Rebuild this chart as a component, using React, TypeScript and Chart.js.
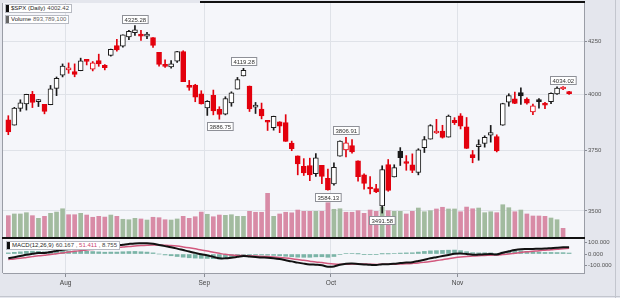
import React, { useEffect, useRef } from 'react';
import { Chart, registerables } from 'chart.js';

Chart.register(...registerables);

const FONT = "'Liberation Sans', Arial, Helvetica, sans-serif";

// ---- data (S&P 500 daily, 2022-07-18 .. 2022-11-28) ----
const dates = [
  'Jul 18','Jul 19','Jul 20','Jul 21','Jul 22','Jul 25','Jul 26','Jul 27','Jul 28','Jul 29',
  'Aug 1','Aug 2','Aug 3','Aug 4','Aug 5','Aug 8','Aug 9','Aug 10','Aug 11','Aug 12',
  'Aug 15','Aug 16','Aug 17','Aug 18','Aug 19','Aug 22','Aug 23','Aug 24','Aug 25','Aug 26',
  'Aug 29','Aug 30','Aug 31','Sep 1','Sep 2','Sep 6','Sep 7','Sep 8','Sep 9','Sep 12',
  'Sep 13','Sep 14','Sep 15','Sep 16','Sep 19','Sep 20','Sep 21','Sep 22','Sep 23','Sep 26',
  'Sep 27','Sep 28','Sep 29','Sep 30','Oct 3','Oct 4','Oct 5','Oct 6','Oct 7','Oct 10',
  'Oct 11','Oct 12','Oct 13','Oct 14','Oct 17','Oct 18','Oct 19','Oct 20','Oct 21','Oct 24',
  'Oct 25','Oct 26','Oct 27','Oct 28','Oct 31','Nov 1','Nov 2','Nov 3','Nov 4','Nov 7',
  'Nov 8','Nov 9','Nov 10','Nov 11','Nov 14','Nov 15','Nov 16','Nov 17','Nov 18','Nov 21',
  'Nov 22','Nov 23','Nov 25','Nov 28'
];

const opens = [
  3883.79,3860.73,3935.32,3955.47,3998.40,3965.72,3953.22,3951.43,4026.13,4087.33,
  4112.38,4104.21,4107.96,4154.85,4115.87,4155.93,4133.11,4181.02,4227.40,4225.02,
  4269.37,4290.46,4280.40,4273.13,4266.31,4195.08,4133.09,4126.55,4153.26,4198.74,
  4034.58,4041.25,4000.67,3936.73,3994.66,3930.89,3909.43,3959.94,4022.94,4083.67,
  4037.12,3940.73,3932.41,3880.95,3849.91,3875.23,3871.40,3782.36,3727.14,3682.72,
  3686.44,3651.94,3687.01,3633.48,3609.78,3726.46,3753.25,3771.97,3706.74,3647.51,
  3595.86,3590.83,3520.37,3690.41,3638.65,3746.26,3703.11,3689.05,3657.10,3762.01,
  3799.44,3825.97,3834.69,3808.26,3881.85,3901.79,3852.90,3733.25,3766.98,3780.71,
  3817.02,3810.94,3859.89,3963.72,3977.97,4006.41,3976.82,3919.26,3966.39,3956.23,
  3965.51,4000.30,4023.34,4005.36
];
const highs = [
  3902.44,3939.81,3974.13,3999.29,4012.44,3975.30,3953.22,4039.56,4078.95,4140.15,
  4144.95,4140.47,4167.66,4161.29,4151.58,4186.62,4137.30,4211.03,4257.91,4280.47,
  4301.79,4325.28,4302.18,4292.53,4266.31,4195.08,4159.77,4156.56,4200.54,4203.04,
  4062.99,4044.98,4015.37,3970.23,4018.43,3942.55,3987.89,4010.50,4076.81,4119.28,
  4037.12,3961.94,3959.14,3880.95,3900.45,3876.01,3907.07,3790.78,3727.14,3715.67,
  3717.53,3736.74,3687.01,3671.44,3698.35,3791.92,3806.91,3797.93,3706.74,3652.17,
  3640.66,3608.34,3685.41,3712.00,3689.73,3762.79,3728.58,3736.00,3757.89,3810.74,
  3862.85,3886.15,3859.95,3905.42,3893.73,3911.79,3894.44,3750.59,3796.34,3813.95,
  3859.40,3818.20,3958.33,4001.48,4008.97,4028.84,3983.09,3954.33,3979.89,3962.00,
  4005.88,4033.78,4034.02,4012.27
];
const lows = [
  3818.63,3860.73,3922.03,3927.64,3938.85,3943.46,3910.74,3951.43,3992.97,4079.22,
  4096.02,4079.81,4107.96,4135.42,4107.31,4128.97,4112.09,4177.26,4201.41,4219.78,
  4256.90,4277.77,4253.08,4261.98,4218.70,4129.86,4124.03,4119.97,4147.59,4057.66,
  4017.42,3965.21,3954.53,3903.65,3906.21,3886.75,3906.03,3944.81,4022.94,4083.67,
  3921.21,3912.27,3888.28,3837.08,3838.50,3827.54,3789.49,3749.45,3647.47,3644.76,
  3623.29,3640.61,3610.40,3584.13,3604.93,3726.46,3722.66,3739.22,3620.73,3588.10,
  3568.45,3573.86,3491.58,3579.68,3638.65,3686.53,3666.51,3656.44,3647.42,3741.65,
  3799.44,3824.07,3803.79,3808.26,3863.18,3843.80,3758.68,3698.15,3708.84,3764.70,
  3786.28,3744.22,3859.89,3944.82,3956.40,3953.17,3954.34,3906.54,3935.98,3933.34,
  3956.88,3998.66,4020.76,3997.92
];
const closes = [
  3830.85,3936.69,3959.90,3998.95,3961.63,3966.84,3921.05,4023.61,4072.43,4130.29,
  4118.63,4091.19,4155.17,4151.94,4145.19,4140.06,4122.47,4210.24,4207.27,4280.15,
  4297.14,4305.20,4274.04,4283.74,4228.48,4137.99,4128.73,4140.77,4199.12,4057.66,
  4030.61,3986.16,3955.00,3966.85,3924.26,3908.19,3979.87,4006.18,4067.36,4110.41,
  3932.69,3946.01,3901.35,3873.33,3899.89,3855.93,3789.93,3757.99,3693.23,3655.04,
  3647.29,3719.04,3640.47,3585.62,3678.43,3790.93,3783.28,3744.52,3639.66,3612.39,
  3588.84,3577.03,3669.91,3583.07,3677.95,3719.98,3695.16,3665.78,3752.75,3797.34,
  3859.11,3830.60,3807.30,3901.06,3871.98,3856.10,3759.69,3719.89,3770.55,3806.80,
  3828.11,3748.57,3956.37,3992.93,3957.25,3991.73,3958.79,3946.56,3965.34,3949.94,
  4003.58,4027.26,4026.12,4002.42
];
const priorClose = 3863.16;

// volume in millions of shares
const volumes = [
  2100,2260,2260,2380,2100,1850,2040,2320,2440,2750,
  2190,2190,2320,2160,1950,2040,1970,2160,2040,1760,
  1720,1850,1790,1690,1950,1910,1720,1690,1790,2040,
  1850,2000,2440,2230,2000,2160,2130,2190,2040,2040,
  2510,2420,2420,4200,2040,2260,2420,2370,2630,2510,
  2510,2510,2510,3320,2700,2750,2420,2420,2570,2320,
  2630,2510,2910,2570,2510,2510,2260,2510,2820,2470,
  2570,2730,2890,2730,2730,2470,2910,2750,2820,2380,
  2470,2380,3130,2850,2470,2630,2260,2070,2070,2040,
  1880,1720,910,null
];
const volumeDirection = [
  'd','u','u','u','d','u','d','u','u','u',
  'd','d','u','d','d','d','d','u','d','u',
  'u','u','d','u','d','d','d','u','u','d',
  'd','d','d','u','d','d','u','u','u','u',
  'd','d','d','d','u','d','d','d','d','d',
  'd','u','d','d','u','u','d','d','d','d',
  'd','d','u','d','u','u','d','d','u','u',
  'u','d','d','u','u','d','d','d','u','u',
  'u','d','u','u','d','u','d','d','d','d',
  'u','u','d','d'
];

const macdLine = [
  -38,-28,-18,-6,2,8,10,18,28,38,
  45,50,56,60,63,65,66,71,75,82,
  89,94,95,95,90,80,70,60,48,35,
  22,10,-2,-12,-25,-38,-38,-32,-25,-18,
  -22,-26,-30,-33,-38,-45,-55,-65,-76,-85,
  -92,-95,-100,-112,-110,-95,-86,-84,-88,-92,
  -96,-98,-90,-90,-86,-80,-76,-72,-62,-50,
  -38,-28,-18,-8,2,4,0,-6,-5,-2,
  0,-4,12,24,35,42,44,45,47,48,
  52,56,59,60.167
];
const signalLine = [
  -48,-43,-37,-30,-23,-16,-10,-4,3,10,
  17,24,30,36,41,46,50,54,58,62,
  67,71,75,78,80,80,78,75,70,63,
  55,46,36,27,16,6,-3,-9,-12,-14,
  -16,-18,-21,-23,-26,-30,-35,-41,-48,-56,
  -63,-70,-76,-83,-88,-90,-90,-89,-89,-89,
  -90,-92,-91,-91,-90,-88,-86,-83,-79,-73,
  -66,-58,-50,-42,-33,-26,-21,-18,-15,-13,
  -10,-9,-5,0,7,14,20,25,30,34,
  38,43,47,51.411
];
const histogram = [
  10,15,19,24,25,24,20,22,25,28,
  28,26,26,24,22,19,16,17,17,20,
  22,23,20,17,10,0,-8,-15,-22,-28,
  -33,-36,-38,-39,-41,-44,-35,-23,-13,-4,
  -6,-8,-9,-10,-12,-15,-20,-24,-28,-29,
  -29,-25,-24,-29,-22,-5,4,5,1,-3,
  -6,-6,1,1,4,8,10,11,17,23,
  28,30,32,34,35,30,21,12,10,11,
  10,5,17,24,28,28,24,20,17,14,
  14,13,12,8.755
];

const monthLabels = ['Aug', 'Sep', 'Oct', 'Nov'];
const monthStarts = [10, 33, 54, 75];
const priceTicks = [3500, 3750, 4000, 4250];
const macdTicks = [-100, 0, 100];

const calloutIndex = [21, 35, 39, 53, 56, 62, 92];
const calloutValue = [4325.28, 3886.75, 4119.28, 3584.13, 3806.91, 3491.58, 4034.02];
const calloutSide = ['above', 'below', 'above', 'below', 'above', 'below', 'above'];

const titleSymbol = '$SPX (Daily)';
const titlePrice = '4002.42';
const volumeLabel = 'Volume';
const volumeValue = '893,789,100';
const macdLabel = 'MACD(12,26,9)';
const macdValue = '60.167';
const signalValue = '51.411';
const histValue = '8.755';

// ---- styling ----
const RED = '#e3000d';
const BLACK = '#1a1a1a';
const GRID = '#dfe2e8';
const PLOT_BG = '#f5f6fa';
const PAGE_BG = '#e4e6ed';
const X_MIN = -0.88;
const X_MAX = 95.47;

const idx = closes.map((_, i) => i);
const prevClose = (i: number) => (i === 0 ? priorClose : closes[i - 1]);
const candleColor = idx.map((i) => (closes[i] >= prevClose(i) ? BLACK : RED));
const candleFill = idx.map((i) => (closes[i] >= opens[i] ? '#ffffff' : candleColor[i]));
const volumeColor = volumeDirection.map((d) => (d === 'u' ? '#a2bb9f' : '#d88ba6'));

const monthTickValues = monthStarts.map((m) => m - 0.5);

const framePlugin = (opts: { thickBottom: boolean; topLine: boolean }) => ({
  id: 'frame',
  beforeDraw(chart: any) {
    const { ctx, chartArea: a } = chart;
    ctx.save();
    ctx.fillStyle = PLOT_BG;
    ctx.fillRect(a.left, a.top, a.right - a.left, a.bottom - a.top);
    ctx.restore();
  },
  afterDraw(chart: any) {
    const { ctx, chartArea: a } = chart;
    ctx.save();
    ctx.strokeStyle = '#9a9da6';
    ctx.lineWidth = 1;
    ctx.beginPath();
    ctx.moveTo(a.left - 0.5, a.top);
    ctx.lineTo(a.left - 0.5, a.bottom);
    ctx.stroke();
    if (opts.thickBottom) {
      ctx.strokeStyle = '#111';
      ctx.lineWidth = 2;
      ctx.beginPath();
      ctx.moveTo(a.left - 1, a.bottom);
      ctx.lineTo(a.right + 1, a.bottom);
      ctx.stroke();
    }
    if (opts.topLine) {
      ctx.strokeStyle = '#111';
      ctx.lineWidth = 2;
      ctx.beginPath();
      ctx.moveTo(200, 2);
      ctx.lineTo(a.right + 1, 2);
      ctx.stroke();
    }
    ctx.restore();
  },
});

const calloutPlugin = {
  id: 'callouts',
  afterDatasetsDraw(chart: any) {
    const { ctx } = chart;
    const xs = chart.scales.x;
    const ys = chart.scales.y;
    ctx.save();
    ctx.font = `6px ${FONT}`;
    ctx.textBaseline = 'middle';
    ctx.textAlign = 'center';
    calloutIndex.forEach((ci, k) => {
      const text = calloutValue[k].toFixed(2);
      const x = xs.getPixelForValue(ci);
      const y = ys.getPixelForValue(calloutValue[k]);
      const w = ctx.measureText(text).width + 4;
      const h = 8;
      const top = calloutSide[k] === 'above' ? y - 3 - h : y + 3;
      const left = Math.round(x - w / 2) + 0.5;
      ctx.fillStyle = '#ffffff';
      ctx.fillRect(left, Math.round(top) + 0.5, w, h);
      ctx.strokeStyle = '#8e9097';
      ctx.lineWidth = 1;
      ctx.strokeRect(left, Math.round(top) + 0.5, w, h);
      ctx.fillStyle = '#333';
      ctx.fillText(text, left + w / 2, Math.round(top) + 0.5 + h / 2 + 0.5);
    });
    ctx.restore();
  },
};

export default function App() {
  const priceRef = useRef<HTMLCanvasElement>(null);
  const macdRef = useRef<HTMLCanvasElement>(null);

  useEffect(() => {
    Chart.defaults.font.family = FONT;

    const priceChart = new Chart(priceRef.current as HTMLCanvasElement, {
      type: 'bar',
      data: {
        datasets: [
          {
            label: 'body',
            data: idx.map((i) => ({ x: i, y: [opens[i], closes[i]] })) as any,
            backgroundColor: candleFill,
            borderColor: candleColor,
            borderWidth: 1,
            borderSkipped: false,
            barThickness: 5,
            minBarLength: 2,
            grouped: false,
            yAxisID: 'y',
            order: 1,
          } as any,
          {
            label: 'wick',
            data: idx.map((i) => ({ x: i, y: [lows[i], highs[i]] })) as any,
            backgroundColor: candleColor,
            borderWidth: 0,
            barThickness: 1,
            grouped: false,
            yAxisID: 'y',
            order: 2,
          } as any,
          {
            label: 'volume',
            data: idx.map((i) => ({ x: i, y: volumes[i] })) as any,
            backgroundColor: volumeColor,
            borderWidth: 0,
            barThickness: 4,
            grouped: false,
            yAxisID: 'yv',
            order: 3,
          } as any,
        ],
      },
      options: {
        animation: false,
        responsive: false,
        devicePixelRatio: 1,
        events: [],
        layout: { padding: { left: 3, top: 3, right: 0, bottom: 2 } },
        plugins: { legend: { display: false }, tooltip: { enabled: false } },
        scales: {
          x: {
            type: 'linear',
            min: X_MIN,
            max: X_MAX,
            offset: false,
            ticks: { display: false },
            grid: { color: GRID, drawTicks: false, offset: false } as any,
            border: { display: false },
            afterBuildTicks: (s: any) => {
              s.ticks = monthTickValues.map((v) => ({ value: v }));
            },
            afterFit: (s: any) => {
              s.height = 0;
              s.paddingLeft = 0;
              s.paddingRight = 0;
            },
          },
          y: {
            type: 'logarithmic',
            position: 'right',
            min: 3393.6,
            max: 4438.6,
            afterBuildTicks: (s: any) => {
              s.ticks = priceTicks.map((v) => ({ value: v }));
            },
            ticks: {
              callback: (v: any) => String(v),
              font: { size: 6, family: FONT },
              color: '#555',
              padding: 1,
              autoSkip: false,
            },
            grid: { color: GRID, tickColor: '#8a8d96', tickLength: 3 },
            border: { display: true, color: '#9a9da6' },
            afterFit: (s: any) => {
              s.width = 36;
              s.paddingTop = 0;
              s.paddingBottom = 0;
            },
          },
          yv: { type: 'linear', display: false, min: 0, max: 22100 },
        },
      } as any,
      plugins: [framePlugin({ thickBottom: true, topLine: true }), calloutPlugin],
    });

    const macdChart = new Chart(macdRef.current as HTMLCanvasElement, {
      type: 'bar',
      data: {
        datasets: [
          {
            type: 'line',
            label: 'MACD',
            data: idx.map((i) => ({ x: i, y: macdLine[i] })),
            borderColor: '#111',
            borderWidth: 2,
            pointRadius: 0,
            tension: 0.4,
            order: 1,
          } as any,
          {
            type: 'line',
            label: 'Signal',
            data: idx.map((i) => ({ x: i, y: signalLine[i] })),
            borderColor: '#d2587d',
            borderWidth: 1.5,
            pointRadius: 0,
            tension: 0.4,
            order: 2,
          } as any,
          {
            type: 'bar',
            label: 'Histogram',
            data: idx.map((i) => ({ x: i, y: histogram[i] })),
            backgroundColor: 'rgba(92,164,146,0.8)',
            borderWidth: 0,
            barThickness: 4,
            grouped: false,
            order: 3,
          } as any,
        ],
      },
      options: {
        animation: false,
        responsive: false,
        devicePixelRatio: 1,
        events: [],
        layout: { padding: { left: 3, top: 0, right: 0, bottom: 0 } },
        plugins: { legend: { display: false }, tooltip: { enabled: false } },
        scales: {
          x: {
            type: 'linear',
            min: X_MIN,
            max: X_MAX,
            offset: false,
            grid: { color: GRID, tickColor: '#8a8d96', tickLength: 4, offset: false } as any,
            border: { display: true, color: '#9a9da6' },
            ticks: {
              autoSkip: false,
              maxRotation: 0,
              padding: 2,
              color: '#444',
              font: { size: 6.5, family: FONT },
              callback: (_v: any, i: number) => monthLabels[i],
            },
            afterBuildTicks: (s: any) => {
              s.ticks = monthTickValues.map((v) => ({ value: v }));
            },
            afterFit: (s: any) => {
              s.height = 25;
              s.paddingLeft = 0;
              s.paddingRight = 0;
            },
          },
          y: {
            type: 'linear',
            position: 'right',
            min: -168,
            max: 133,
            afterBuildTicks: (s: any) => {
              s.ticks = macdTicks.map((v) => ({ value: v }));
            },
            ticks: {
              callback: (v: any) => Number(v).toFixed(3),
              font: { size: 6, family: FONT },
              color: '#555',
              padding: 1,
              autoSkip: false,
            },
            grid: { drawOnChartArea: false, tickColor: '#8a8d96', tickLength: 3 },
            border: { display: true, color: '#9a9da6' },
            afterFit: (s: any) => {
              s.width = 36;
              s.paddingTop = 0;
              s.paddingBottom = 0;
            },
          },
        },
      } as any,
      plugins: [framePlugin({ thickBottom: false, topLine: false })],
    });

    return () => {
      priceChart.destroy();
      macdChart.destroy();
    };
  }, []);

  const box = (left: number, top: number): React.CSSProperties => ({
    position: 'absolute',
    left,
    top,
    height: 9,
    boxSizing: 'border-box',
    border: '1px solid #b7bac2',
    background: '#ffffff',
    display: 'flex',
    alignItems: 'center',
    fontSize: 6,
    lineHeight: '7px',
    fontFamily: FONT,
    color: '#222',
    whiteSpace: 'nowrap',
    paddingRight: 2,
    zIndex: 3,
  });
  const marker = (color: string): React.CSSProperties => ({
    display: 'inline-block',
    width: 3,
    height: 7,
    background: color,
    marginRight: 2,
  });

  return (
    <div
      style={{
        position: 'fixed',
        left: 0,
        top: 0,
        width: 620,
        height: 298,
        background: PAGE_BG,
        overflow: 'hidden',
        fontFamily: FONT,
      }}
    >
      <canvas ref={priceRef} width={620} height={240} style={{ position: 'absolute', left: 0, top: 0 }} />
      <canvas ref={macdRef} width={620} height={59} style={{ position: 'absolute', left: 0, top: 239 }} />
      <div style={{ position: 'absolute', left: 615, top: 0, width: 1, height: 298, background: '#c3c6ce' }} />
      <div style={{ position: 'absolute', left: 0, top: 296, width: 620, height: 1, background: '#c3c6ce' }} />
      <div style={box(5, 4)}>
        <span style={marker('#111')} />
        <span style={{ color: '#222' }}>{titleSymbol}</span>
        <span style={{ color: '#444', marginLeft: 2 }}>{titlePrice}</span>
      </div>
      <div style={box(5, 15)}>
        <span style={marker('#666')} />
        <span style={{ color: '#222' }}>{volumeLabel}</span>
        <span style={{ color: '#666', marginLeft: 2 }}>{volumeValue}</span>
      </div>
      <div style={box(6, 241)}>
        <span style={marker('#111')} />
        <span style={{ color: '#222' }}>{macdLabel}</span>
        <span style={{ color: '#444', marginLeft: 2 }}>{macdValue}</span>
        <span style={{ color: '#444' }}>&nbsp;,&nbsp;</span>
        <span style={{ color: '#cc4a70' }}>{signalValue}</span>
        <span style={{ color: '#444' }}>&nbsp;,&nbsp;</span>
        <span style={{ color: '#444' }}>{histValue}</span>
      </div>
    </div>
  );
}
